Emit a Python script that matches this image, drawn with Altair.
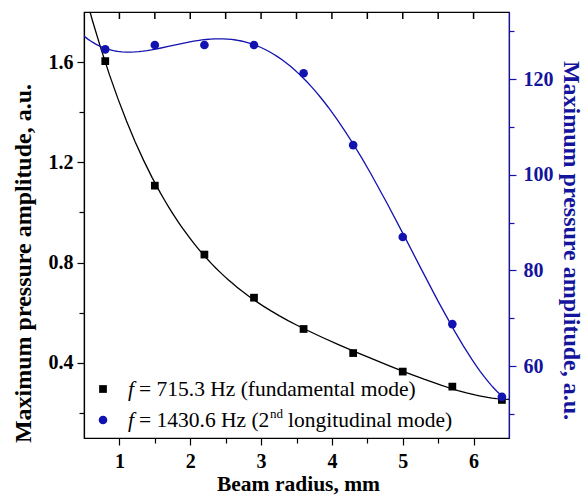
import altair as alt
import pandas as pd

# ---- data ----
radius_mm = [0.8, 1.5, 2.2, 2.9, 3.6, 4.3, 5.0, 5.7, 6.4]
amp_fundamental = [1.604, 1.107, 0.832, 0.660, 0.535, 0.439, 0.365, 0.305, 0.252]
amp_second = [126.2, 127.1, 127.1, 127.1, 121.2, 106.2, 87.0, 68.8, 53.6]

x_major = [1, 2, 3, 4, 5, 6]
x_minor = [1.5, 2.5, 3.5, 4.5, 5.5]
x_all = [1, 1.5, 2, 2.5, 3, 3.5, 4, 4.5, 5, 5.5, 6]
y_left_major = [0.4, 0.8, 1.2, 1.6]
y_left_minor = [0.2, 0.6, 1.0, 1.4]
y_right_major = [60, 80, 100, 120]
y_right_minor = [50, 70, 90, 110, 130]

legend_f = ["f", "f"]
legend_rest = ["= 715.3 Hz (fundamental mode)", "= 1430.6 Hz (2"]
legend_sup = ["nd"]
legend_tail = ["longitudinal mode)"]

x_title = "Beam radius, mm"
y_title = "Maximum pressure amplitude, a.u."

BLUE = "#1212B0"
BLUE_TXT = "#14149C"
FONT = "Liberation Serif"

df = pd.DataFrame({"r": radius_mm, "p1": amp_fundamental, "p2": amp_second})
top_df = pd.DataFrame({"v": x_all})

xs = alt.Scale(domain=[0.5, 6.5], nice=False, zero=False)
y1s = alt.Scale(domain=[0.1, 1.8], nice=False, zero=False)
y2s = alt.Scale(domain=[45, 134], nice=False, zero=False)

base = alt.Chart(df)

black_line = base.transform_regression(
    "r", "p1", method="poly", order=4, extent=[0.5, 6.5]
).mark_line(color="black", strokeWidth=1.3, clip=True).encode(
    x=alt.X("r:Q", scale=xs, axis=None),
    y=alt.Y("p1:Q", scale=y1s, axis=None),
)
black_pts = base.mark_point(shape="square", filled=True, size=60, color="black", opacity=1).encode(
    x=alt.X("r:Q", scale=xs, axis=alt.Axis(
        values=x_major, orient="bottom", format="d", tickSize=7, labelPadding=6,
        title=x_title, titleX=214, titleY=46, titleBaseline="middle", titleFontSize=21.5)),
    y=alt.Y("p1:Q", scale=y1s, axis=alt.Axis(
        values=y_left_major, orient="left", format=".1f", tickSize=7, labelPadding=4,
        title=y_title, titleX=-61, titleY=251, titleBaseline="middle", titleAngle=270)),
)

# minor ticks (left / bottom)
minor_lb = base.mark_point(opacity=0).encode(
    x=alt.X("r:Q", scale=xs, axis=alt.Axis(
        values=x_minor, orient="bottom", labels=False, domain=False, tickSize=5, title=None)),
    y=alt.Y("p1:Q", scale=y1s, axis=alt.Axis(
        values=y_left_minor, orient="left", labels=False, domain=False, tickSize=5, title=None)),
)

# inward ticks along the top frame
top_ticks = alt.Chart(top_df).mark_rule(color="black", strokeWidth=1.5).encode(
    x=alt.X("v:Q", scale=xs, axis=None),
    y=alt.value(0), y2=alt.value(7),
)

blue_line = base.transform_regression(
    "r", "p2", method="poly", order=4, extent=[0.5, 6.45]
).mark_line(color=BLUE, strokeWidth=1.3, clip=True).encode(
    x=alt.X("r:Q", scale=xs, axis=None),
    y=alt.Y("p2:Q", scale=y2s, axis=None),
)
blue_pts = base.mark_circle(size=75, color=BLUE, opacity=1).encode(
    x=alt.X("r:Q", scale=xs, axis=None),
    y=alt.Y("p2:Q", scale=y2s, axis=alt.Axis(
        values=y_right_major, orient="right", format="d", tickSize=7, labelPadding=7,
        title=y_title, titleX=61, titleY=228, titleBaseline="middle", titleAngle=90,
        domainColor=BLUE, tickColor=BLUE, labelColor=BLUE_TXT, titleColor=BLUE_TXT)),
)
minor_r = base.mark_point(opacity=0).encode(
    x=alt.X("r:Q", scale=xs, axis=None),
    y=alt.Y("p2:Q", scale=y2s, axis=alt.Axis(
        values=y_right_minor, orient="right", labels=False, domain=False,
        tickSize=5, tickColor=BLUE, title=None)),
)

# ---- legend (drawn as text/marks) ----
one = pd.DataFrame({"k": [0]})
def txt(s, x, y, size=21.5, style="normal", color="black"):
    return alt.Chart(pd.DataFrame({"t": [s]})).mark_text(
        align="left", baseline="middle", font=FONT, fontSize=size,
        fontStyle=style, color=color,
    ).encode(x=alt.value(x), y=alt.value(y), text="t:N")

leg_sq = alt.Chart(one).mark_point(shape="square", filled=True, size=60, color="black", opacity=1).encode(
    x=alt.value(19), y=alt.value(377))
leg_ci = alt.Chart(one).mark_circle(size=75, color=BLUE, opacity=1).encode(
    x=alt.value(19), y=alt.value(408))
legend = alt.layer(
    leg_sq, leg_ci,
    txt(legend_f[0], 44, 378, style="italic"),
    txt(legend_rest[0], 55, 378),
    txt(legend_f[1], 44, 409, style="italic"),
    txt(legend_rest[1], 55, 409),
    txt(legend_sup[0], 186, 402, size=13),
    txt(legend_tail[0], 204, 409),
)

black_layer = alt.layer(minor_lb, black_line, black_pts, top_ticks).resolve_axis(x="independent", y="independent")
blue_layer = alt.layer(minor_r, blue_line, blue_pts).resolve_axis(x="independent", y="independent")

chart = alt.layer(black_layer, blue_layer, legend).resolve_scale(
    y="independent"
).resolve_axis(x="independent", y="independent").properties(
    width=425, height=426,
    autosize=alt.AutoSizeParams(type="none"),
    padding={"left": 84, "top": 12, "right": 76, "bottom": 58},
).configure(
    background="white",
    view=alt.ViewConfig(stroke="black", strokeWidth=1.2),
    axis=alt.AxisConfig(
        grid=False, labelFont=FONT, titleFont=FONT, labelFontWeight="bold",
        titleFontWeight="bold", labelFontSize=20, titleFontSize=24,
        domainColor="black", tickColor="black", labelColor="black",
        titleColor="black", domainWidth=1.2, tickWidth=1.2,
    ),
)

chart.save("out.html", embed_options={"renderer": "svg", "actions": False})
